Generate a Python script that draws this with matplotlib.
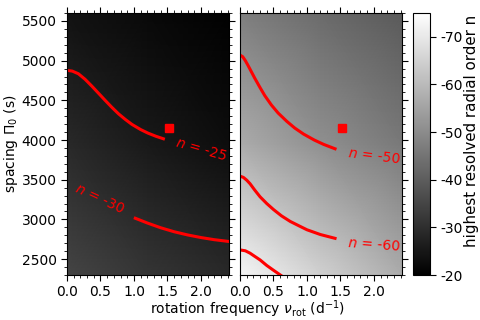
import matplotlib
matplotlib.use("Agg")
import matplotlib.pyplot as plt
from matplotlib.ticker import MultipleLocator
import numpy as np

plt.rcParams["axes.unicode_minus"] = False

# background: highest resolved radial order, read at corners/middles of each panel
grid_x = [0.0, 1.2, 2.42]
grid_y = [2300, 3950, 5600]
left_bg = [[-35.0, -31.5, -29.0],
           [-29.0, -25.5, -23.0],
           [-24.0, -22.0, -20.3]]
right_bg = [[-73.0, -65.0, -57.0],
            [-57.0, -51.0, -46.0],
            [-47.5, -43.0, -39.5]]

# contour lines (n = const)
n25_x = [0.0, 0.08, 0.17, 0.27, 0.37, 0.47, 0.57, 0.67, 0.77, 0.87, 0.97,
         1.1, 1.21, 1.33, 1.44]
n25_y = [4878, 4868, 4835, 4765, 4680, 4590, 4500, 4412, 4330, 4260, 4197,
         4132, 4087, 4047, 4016]
n30_x = [1.02, 1.2, 1.4, 1.6, 1.8, 2.0, 2.2, 2.42]
n30_y = [3015, 2955, 2895, 2845, 2805, 2772, 2745, 2722]
n50_x = [0.0, 0.04, 0.08, 0.12, 0.17, 0.22, 0.3, 0.37, 0.47, 0.57, 0.7,
         0.82, 0.95, 1.11, 1.25, 1.42]
n50_y = [5070, 5050, 5000, 4940, 4860, 4780, 4660, 4560, 4440, 4340, 4235,
         4150, 4075, 4000, 3945, 3890]
n60_x = [0.0, 0.05, 0.1, 0.15, 0.22, 0.3, 0.4, 0.5, 0.62, 0.75, 0.88, 1.0,
         1.2, 1.42]
n60_y = [3545, 3530, 3495, 3450, 3370, 3285, 3200, 3125, 3045, 2975, 2920,
         2870, 2810, 2762]
n70_x = [0.0, 0.08, 0.15, 0.22, 0.3, 0.4, 0.5, 0.62]
n70_y = [2616, 2605, 2575, 2535, 2490, 2420, 2360, 2290]

star_x = 1.53
star_y = 4155

vmin, vmax = -75, -20
xmax = 2.42
fs = 10

fig = plt.figure(figsize=(4.8, 3.2), dpi=100)
ax1 = fig.add_axes([0.1396, 0.1406, 0.3375, 0.8187])
ax2 = fig.add_axes([0.5, 0.1406, 0.3375, 0.8187])
cax = fig.add_axes([0.8604, 0.1406, 0.0354, 0.8187])

pc = ax1.pcolormesh(grid_x, grid_y, np.array(left_bg), shading="gouraud",
                    cmap="gray_r", vmin=vmin, vmax=vmax)
ax2.pcolormesh(grid_x, grid_y, np.array(right_bg), shading="gouraud",
               cmap="gray_r", vmin=vmin, vmax=vmax)

lw = 2.2
ax1.plot(n25_x, n25_y, color="red", lw=lw)
ax1.plot(n30_x, n30_y, color="red", lw=lw)
ax2.plot(n50_x, n50_y, color="red", lw=lw)
ax2.plot(n60_x, n60_y, color="red", lw=lw)
ax2.plot(n70_x, n70_y, color="red", lw=lw)
for ax in (ax1, ax2):
    ax.plot(star_x, star_y, "s", color="red", ms=5.5)

ax1.text(2.0, 3885, "$n$ = -25", color="red", fontsize=fs, rotation=-16,
         ha="center", va="center")
ax1.text(0.49, 3262, "$n$ = -30", color="red", fontsize=fs, rotation=-25,
         ha="center", va="center")
ax2.text(2.0, 3790, "$n$ = -50", color="red", fontsize=fs, rotation=-7,
         ha="center", va="center")
ax2.text(2.0, 2685, "$n$ = -60", color="red", fontsize=fs, rotation=-4,
         ha="center", va="center")

for ax in (ax1, ax2):
    ax.set_xlim(0, xmax)
    ax.set_ylim(2300, 5600)
    ax.set_xticks([0.0, 0.5, 1.0, 1.5, 2.0])
    ax.xaxis.set_minor_locator(MultipleLocator(0.1))
    ax.yaxis.set_major_locator(MultipleLocator(500))
    ax.yaxis.set_minor_locator(MultipleLocator(100))
    ax.tick_params(which="both", direction="out", top=True, right=True,
                   labelsize=fs)
    ax.tick_params(which="major", length=4)
    ax.tick_params(which="minor", length=2)

ax2.tick_params(which="both", left=False, labelleft=False)

ax1.set_ylabel(r"spacing $\Pi_0$ (s)", fontsize=fs, labelpad=1)
fig.text(0.515, 0.035, r"rotation frequency $\nu_{\rm rot}$ (d$^{-1}$)",
         ha="center", va="center", fontsize=fs)

cb = fig.colorbar(pc, cax=cax)
cb.set_ticks([-70, -60, -50, -40, -30, -20])
cb.ax.invert_yaxis()
cb.ax.tick_params(labelsize=fs, length=4)
cb.set_label("highest resolved radial order n", fontsize=10.8, labelpad=1)
cb.ax.yaxis.label.set_y(0.55)

fig.savefig("out.png", dpi=100)
